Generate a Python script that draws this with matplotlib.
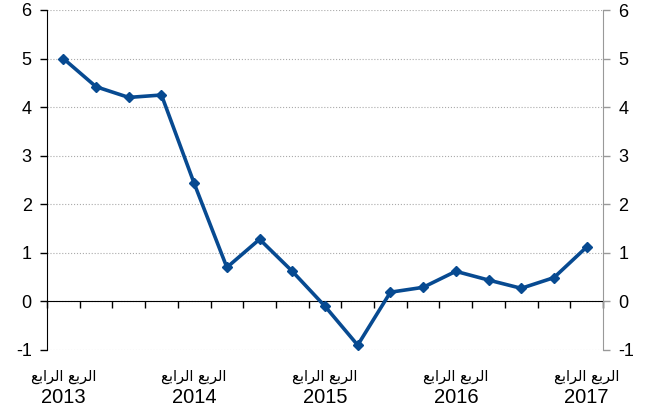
import numpy as np
import matplotlib.pyplot as plt
import matplotlib.transforms as mtransforms

# quarterly values, Q4 2013 .. Q4 2017
values = [5.0, 4.42, 4.2, 4.25, 2.43, 0.7, 1.28, 0.62, -0.1, -0.9,
          0.19, 0.29, 0.62, 0.44, 0.27, 0.49, 1.12]
years = ['2013', '2014', '2015', '2016', '2017']
label_pos = [0, 4, 8, 12, 16]
# "الربع الرابع" written with presentation forms in visual order
quarter_label = '\ufeca\ufe91\ufe8d\ufeae\ufedf\ufe8d \ufeca\ufe91\ufeae\ufedf\ufe8d'
yticks = [-1, 0, 1, 2, 3, 4, 5, 6]

plt.rcParams['font.family'] = ['Liberation Sans', 'DejaVu Sans']

fig = plt.figure(figsize=(6.52, 4.12), dpi=100)
ax = fig.add_axes([47/652, 62/412, 556/652, 340/412])

x = np.arange(len(values))
blue = '#074a91'
ax.plot(x, values, color=blue, lw=2.6, marker='D', ms=5.5, zorder=3)

ax.set_xlim(-0.5, len(values) - 0.5)
ax.set_ylim(-1, 6)
ax.set_yticks(yticks)
ax.set_yticklabels([str(t) for t in yticks], fontsize=13)
ax.grid(axis='y', color='#aaaaaa', ls=':', lw=0.8)
ax.set_axisbelow(True)

# x axis drawn through zero with ticks between quarters
ax.spines['bottom'].set_position(('data', 0))
ax.spines['top'].set_visible(False)
ax.spines['right'].set_visible(False)
ax.set_xticks(np.arange(-0.5, len(values), 1.0))
ax.set_xticklabels([])
ax.tick_params(axis='x', direction='out', length=5, width=1, color='black')
ax.tick_params(axis='y', direction='out', length=5, width=1, pad=6)

trans = mtransforms.blended_transform_factory(ax.transData, ax.transAxes)
for p, yr in zip(label_pos, years):
    ax.text(p, -0.078, quarter_label, transform=trans, ha='center', va='center',
            fontsize=10.5, family='DejaVu Sans')
    ax.text(p, -0.14, yr, transform=trans, ha='center', va='center', fontsize=14.5)

ax2 = ax.twinx()
ax2.set_ylim(-1, 6)
ax2.set_yticks(yticks)
ax2.set_yticklabels([str(t) for t in yticks], fontsize=13)
for s in ['top', 'left', 'bottom']:
    ax2.spines[s].set_visible(False)
ax2.spines['right'].set_color('#999999')
ax2.tick_params(axis='y', direction='out', length=5, width=1, color='#999999', pad=6)

fig.savefig('out.png', dpi=100)
